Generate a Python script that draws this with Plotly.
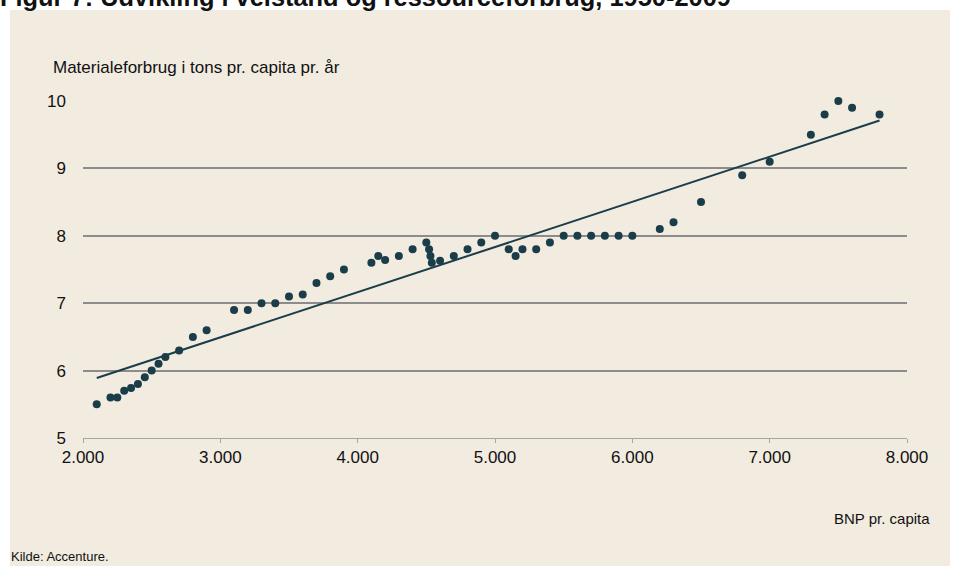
import plotly.graph_objects as go

# Data
bnp = [2100, 2200, 2250, 2300, 2350, 2400, 2450, 2500, 2550, 2600, 2700, 2800, 2900,
       3100, 3200, 3300, 3400, 3500, 3600, 3700, 3800, 3900, 4100, 4150, 4200, 4300,
       4400, 4500, 4520, 4530, 4540, 4600, 4700, 4800, 4900, 5000, 5100, 5150, 5200,
       5300, 5400, 5500, 5600, 5700, 5800, 5900, 6000, 6200, 6300, 6500, 6800, 7000,
       7300, 7400, 7500, 7600, 7800]
materiale = [5.50, 5.60, 5.60, 5.70, 5.74, 5.80, 5.90, 6.00, 6.10, 6.20, 6.30, 6.50, 6.60,
             6.90, 6.90, 7.00, 7.00, 7.10, 7.13, 7.30, 7.40, 7.50, 7.60, 7.70, 7.64, 7.70,
             7.80, 7.90, 7.80, 7.70, 7.60, 7.63, 7.70, 7.80, 7.90, 8.00, 7.80, 7.70, 7.80,
             7.80, 7.90, 8.00, 8.00, 8.00, 8.00, 8.00, 8.00, 8.10, 8.20, 8.50, 8.90, 9.10,
             9.50, 9.80, 10.00, 9.90, 9.80]
trend_x = [2100, 7800]
trend_y = [5.89, 9.71]

x_ticks = [2000, 3000, 4000, 5000, 6000, 7000, 8000]
y_ticks = [5, 6, 7, 8, 9, 10]

title = "Figur 7: Udvikling i velstand og ressourceforbrug, 1950-2009"
y_title = "Materialeforbrug i tons pr. capita pr. år"
x_title = "BNP pr. capita"
source = "Kilde: Accenture."

dark = "#1B3D49"
txt = "#111111"
font = "Liberation Sans, Arial, sans-serif"

W, H = 963, 566
L, R, T, B = 83, 56, 101, 128
pw, ph = W - L - R, H - T - B

def px(x):
    return (x - L) / pw

def py(y):
    return (H - B - y) / ph

fig = go.Figure()
fig.add_trace(go.Scatter(x=trend_x, y=trend_y, mode="lines",
                         line=dict(color=dark, width=2), hoverinfo="skip",
                         cliponaxis=False))
fig.add_trace(go.Scatter(x=bnp, y=materiale, mode="markers",
                         marker=dict(color=dark, size=8, line=dict(width=0)),
                         cliponaxis=False))

fig.update_layout(
    width=W, height=H,
    margin=dict(l=L, r=R, t=T, b=B),
    paper_bgcolor="white",
    plot_bgcolor="rgba(0,0,0,0)",
    showlegend=False,
    separators=",.",
    font=dict(family=font, size=17, color=txt),
    xaxis=dict(range=[2000, 8000], tickvals=x_ticks, tickformat=",.0f",
               showgrid=False, zeroline=False, showline=True,
               linecolor="#a6a6a6", linewidth=1,
               ticks="outside", ticklen=4, tickcolor="#a6a6a6", tickwidth=1,
               ticklabelstandoff=0,
               tickfont=dict(size=17, color=txt)),
    yaxis=dict(range=[5, 10], tickvals=y_ticks, showgrid=True,
               gridcolor="#8c8c8c", gridwidth=2, zeroline=False, showline=False,
               ticks="", ticklabelstandoff=16,
               tickfont=dict(size=17, color=txt)),
    shapes=[dict(type="rect", xref="paper", yref="paper",
                 x0=px(10), x1=px(950), y0=py(566), y1=py(10),
                 fillcolor="#F1EBE0", line=dict(width=0), layer="below")],
    annotations=[
        dict(text="<b>" + title + "</b>", xref="paper", yref="paper",
             x=px(-2), y=py(13), xanchor="left", yanchor="bottom",
             showarrow=False, font=dict(size=25.4, color=txt)),
        dict(text=y_title, xref="paper", yref="paper",
             x=px(51), y=py(67), xanchor="left", yanchor="middle",
             showarrow=False, font=dict(size=17, color=txt)),
        dict(text=x_title, xref="paper", yref="paper",
             x=px(932), y=py(518), xanchor="right", yanchor="middle",
             showarrow=False, font=dict(size=15, color=txt)),
        dict(text=source, xref="paper", yref="paper",
             x=px(9), y=py(556), xanchor="left", yanchor="middle",
             showarrow=False, font=dict(size=13, color=txt)),
    ],
)

fig.write_html("out.html", config={"displayModeBar": False},
               post_script="document.body.style.margin='0';")
